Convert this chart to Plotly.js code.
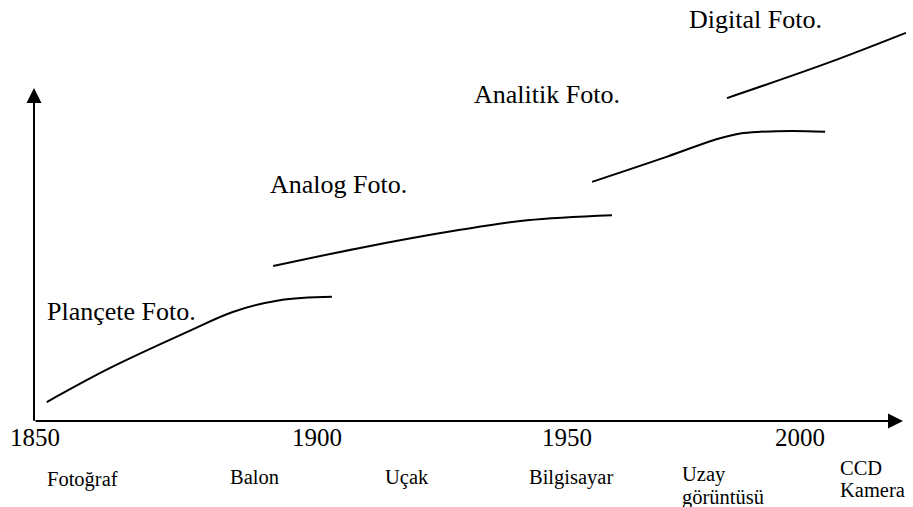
<!DOCTYPE html>
<html>
<head>
<meta charset="utf-8">
<script src="https://cdn.plot.ly/plotly-3.0.1.min.js"></script>
<style>html,body{margin:0;padding:0;background:#fff;}#chart{width:913px;height:507px;}</style>
</head>
<body>
<div id="chart"></div>
<script>
// ---- data (x: timeline in years, y: development level 0-100) ----
const planceteYears = [1852.5, 1864.9, 1879.9, 1888.9, 1898.1, 1908.3];
const planceteLevel = [4.5, 12.6, 21.1, 25.9, 28.7, 29.5];

const analogYears = [1896.8, 1913.8, 1933.4, 1946.5, 1963.1];
const analogLevel = [36.8, 41.1, 45.4, 47.7, 48.9];

const analitikYears = [1959.2, 1973.9, 1983.7, 1988.2, 1992.1, 1998.5, 2004.8];
const analitikLevel = [56.8, 62.8, 67.0, 68.3, 68.7, 68.9, 68.7];

const digitalYears = [1985.6, 2005.2, 2020.6];
const digitalLevel = [76.7, 85.0, 92.2];

const eraNames = ['Plançete Foto.', 'Analog Foto.', 'Analitik Foto.', 'Digital Foto.'];

const tickLabels = ['1850', '1900', '1950', '2000'];
const tickPositions = [1850.2, 1905.4, 1954.3, 1999.9];

const eventLabels = ['Fotoğraf', 'Balon', 'Uçak', 'Bilgisayar', 'Uzay\ngörüntüsü', 'CCD\nKamera'];

// ---- layout helpers (positions / styles) ----
const SERIF = 'Liberation Serif, Times New Roman, serif';
const eraLabelPos = [[1852.2, 26.1], [1895.8, 56.2], [1935.7, 77.6], [1977.8, 95.4]];
const eventPos = [
  {x: 1859.4, anchor: 'center', y: [-13.8]},
  {x: 1893.2, anchor: 'center', y: [-13.4]},
  {x: 1923.0, anchor: 'center', y: [-13.4]},
  {x: 1955.1, anchor: 'center', y: [-13.4]},
  {x: 1976.6, anchor: 'left', y: [-12.8, -18.2]},
  {x: 2007.5, anchor: 'left', y: [-11.1, -16.5]}
];

const lineStyle = {color: '#000', width: 2, shape: 'spline', smoothing: 1};
const series = [
  [planceteYears, planceteLevel],
  [analogYears, analogLevel],
  [analitikYears, analitikLevel],
  [digitalYears, digitalLevel]
];
const traces = series.map((s, i) => ({
  type: 'scatter', mode: 'lines', x: s[0], y: s[1],
  line: lineStyle, name: eraNames[i], hoverinfo: 'skip', cliponaxis: false
}));

const annotations = [];
// axes with arrowheads
annotations.push({x: 2020.05, y: 0, ax: 1850, ay: 0, xref: 'x', yref: 'y', axref: 'x', ayref: 'y',
  text: '', showarrow: true, arrowhead: 2, arrowsize: 1.5, arrowwidth: 2, arrowcolor: '#000',
  standoff: 0, startstandoff: 0});
annotations.push({x: 1850, y: 79.1, ax: 1850, ay: -0.3, xref: 'x', yref: 'y', axref: 'x', ayref: 'y',
  text: '', showarrow: true, arrowhead: 2, arrowsize: 1.5, arrowwidth: 2, arrowcolor: '#000',
  standoff: 0, startstandoff: 0});

eraNames.forEach((t, i) => annotations.push({
  x: eraLabelPos[i][0], y: eraLabelPos[i][1], xref: 'x', yref: 'y', text: t, showarrow: false,
  xanchor: 'left', yanchor: 'middle', font: {family: SERIF, size: 26, color: '#000'}
}));
tickLabels.forEach((t, i) => annotations.push({
  x: tickPositions[i], y: -3.9, xref: 'x', yref: 'y', text: t, showarrow: false,
  xanchor: 'center', yanchor: 'middle', font: {family: SERIF, size: 25, color: '#000'}
}));
eventLabels.forEach((t, i) => {
  t.split('\n').forEach((line, j) => annotations.push({
    x: eventPos[i].x, y: eventPos[i].y[j], xref: 'x', yref: 'y', text: line, showarrow: false,
    xanchor: eventPos[i].anchor, yanchor: 'middle', borderpad: 0,
    font: {family: SERIF, size: 20.5, color: '#000'}
  }));
});

const layout = {
  width: 913, height: 507,
  margin: {l: 34, r: 0, t: 0, b: 0},
  paper_bgcolor: '#fff', plot_bgcolor: '#fff',
  showlegend: false,
  xaxis: {range: [1850, 2022], visible: false, fixedrange: true},
  yaxis: {range: [-20.43, 100], visible: false, fixedrange: true},
  annotations: annotations
};

Plotly.newPlot('chart', traces, layout, {staticPlot: true, displayModeBar: false});
</script>
</body>
</html>
